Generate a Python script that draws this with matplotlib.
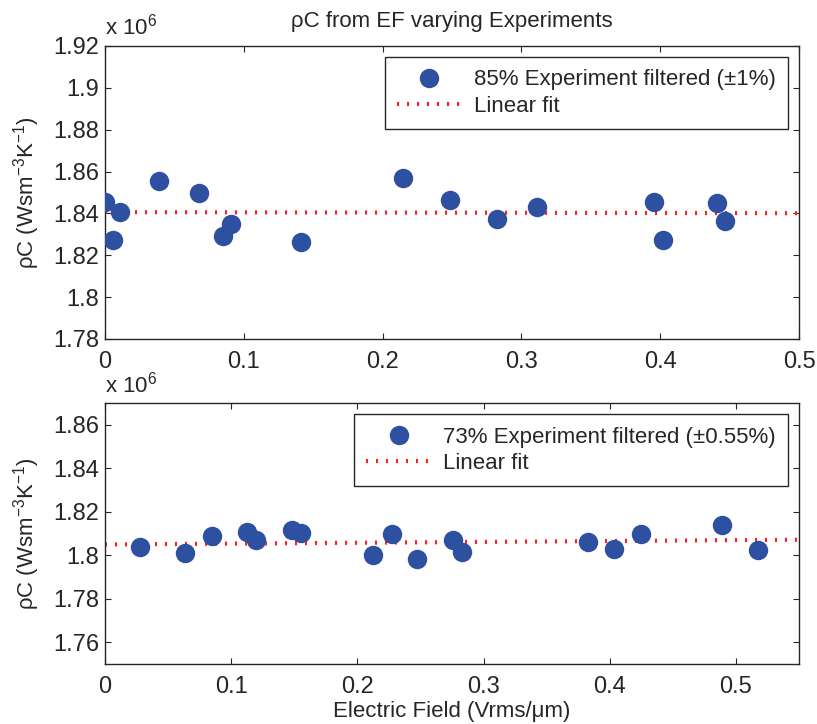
import matplotlib
matplotlib.use("Agg")
import matplotlib.pyplot as plt
from matplotlib.ticker import FuncFormatter, MultipleLocator

plt.rcParams['font.family'] = ['Liberation Sans', 'DejaVu Sans']
plt.rcParams['mathtext.fontset'] = 'custom'
plt.rcParams['mathtext.rm'] = 'Liberation Sans'
plt.rcParams['mathtext.it'] = 'Liberation Sans:italic'
plt.rcParams['mathtext.default'] = 'regular'

# ---- data ----
title = "ρC from EF varying Experiments"
xlabel = "Electric Field (Vrms/μm)"
ylabel = r"ρC (Wsm$^{-3}$K$^{-1}$)"

x85 = [0.0, 0.0055, 0.0108, 0.0391, 0.0675, 0.0848, 0.0906, 0.1412,
       0.2149, 0.2486, 0.2826, 0.3110, 0.3955, 0.4018, 0.4411, 0.4469]
y85 = [1.8456e6, 1.8273e6, 1.8408e6, 1.8555e6, 1.8499e6, 1.8292e6, 1.8348e6, 1.8265e6,
       1.8568e6, 1.8464e6, 1.8374e6, 1.8432e6, 1.8456e6, 1.8273e6, 1.8448e6, 1.8363e6]
fit85_x = [0.0, 0.5]
fit85_y = [1.8406e6, 1.8401e6]
label85 = "85% Experiment filtered (±1%)"

x73 = [0.0278, 0.0635, 0.0847, 0.1129, 0.1196, 0.1484, 0.1556, 0.2121, 0.2275,
       0.2471, 0.2760, 0.2831, 0.3828, 0.4034, 0.4246, 0.4887, 0.5172]
y73 = [1.8039e6, 1.8011e6, 1.8090e6, 1.8106e6, 1.8069e6, 1.8118e6, 1.8103e6, 1.8003e6, 1.8098e6,
       1.7984e6, 1.8072e6, 1.8016e6, 1.8063e6, 1.8029e6, 1.8098e6, 1.8139e6, 1.8026e6]
fit73_x = [0.0, 0.55]
fit73_y = [1.8050e6, 1.8072e6]
label73 = "73% Experiment filtered (±0.55%)"
fit_label = "Linear fit"

blue = '#2E50A0'
red = '#FF2020'
txt = '#262626'
FS = 16
TFS = 17

fig = plt.figure(figsize=(8.17, 7.24), dpi=100)
ax1 = fig.add_axes([0.1285, 0.5318, 0.8495, 0.4047])
ax2 = fig.add_axes([0.1285, 0.0829, 0.8495, 0.3601])

fmt = FuncFormatter(lambda v, p: f"{v/1e6:g}")
xfmt = FuncFormatter(lambda v, p: f"{v:g}")


def style(ax, xlim, ylim):
    ax.set_xlim(*xlim)
    ax.set_ylim(*ylim)
    ax.xaxis.set_major_locator(MultipleLocator(0.1))
    ax.yaxis.set_major_locator(MultipleLocator(0.02e6))
    ax.yaxis.set_major_formatter(fmt)
    ax.xaxis.set_major_formatter(xfmt)
    ax.tick_params(direction='in', top=True, right=True, length=4.3, width=0.8,
                   labelsize=TFS, colors=txt, labelcolor=txt)
    ax.tick_params(axis='y', pad=4)
    ax.tick_params(axis='x', pad=8.5)
    for s in ax.spines.values():
        s.set_linewidth(1.0)
        s.set_color(txt)
    ax.set_ylabel(ylabel, fontsize=FS, color=txt, labelpad=8)
    ax.annotate(r"x 10$^{6}$", xy=(0.0, 1.0), xycoords='axes fraction',
                xytext=(0, 8), textcoords='offset points', fontsize=FS,
                color=txt, ha='left', va='baseline')


def draw(ax, x, y, fx, fy, lab):
    ax.plot(x, y, 'o', color=blue, markersize=14, markeredgewidth=0, label=lab, zorder=3)
    ax.plot(fx, fy, color=red, linewidth=3, linestyle=(0, (0.5, 1.9)),
            dash_capstyle='butt', label=fit_label, zorder=2)
    leg = ax.legend(loc='upper right', fontsize=FS, frameon=True, fancybox=False,
                    edgecolor=txt, framealpha=1, handlelength=2.9, handletextpad=0.55,
                    borderpad=0.55, labelspacing=0.25, numpoints=1, borderaxespad=0.5)
    leg.get_frame().set_linewidth(1.0)
    for t in leg.get_texts():
        t.set_color(txt)


draw(ax1, x85, y85, fit85_x, fit85_y, label85)
style(ax1, (0, 0.5), (1.78e6, 1.92e6))
ax1.set_title(title, fontsize=FS, color=txt, pad=13.5)

draw(ax2, x73, y73, fit73_x, fit73_y, label73)
style(ax2, (0, 0.55), (1.75e6, 1.87e6))
ax2.set_xlabel(xlabel, fontsize=FS, color=txt, labelpad=2)

fig.savefig('out.png', dpi=100, facecolor='white')
